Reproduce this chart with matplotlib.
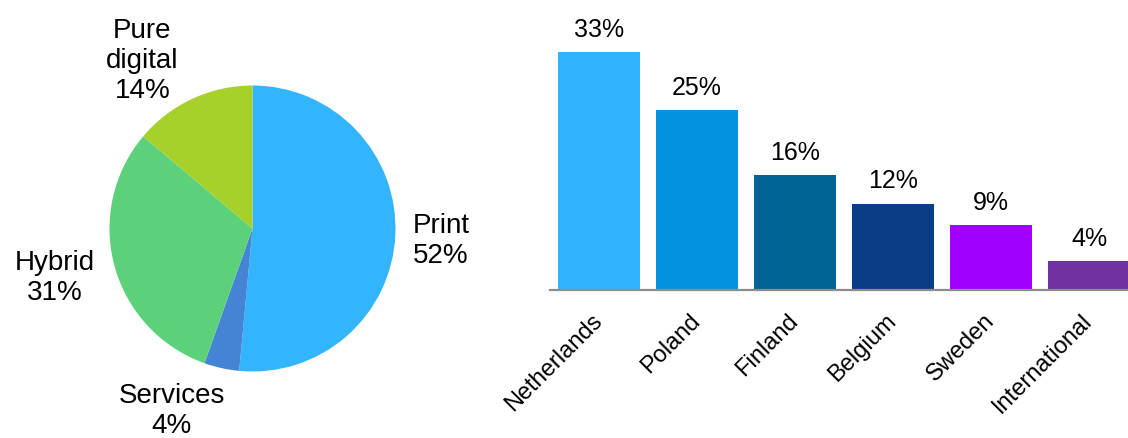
import matplotlib
matplotlib.use("Agg")
import matplotlib.pyplot as plt

# set default font
matplotlib.rcParams.update({"font.family": "Liberation Sans", "font.size": 18})

# pie data
segments = ["Print", "Services", "Hybrid", "Pure digital"]
shares = [52, 4, 31, 14]
seg_labels = ["Print\n52%", "Services\n4%", "Hybrid\n31%", "Pure\ndigital\n14%"]
seg_colors = ["#33b5fd", "#4484d4", "#5dd07a", "#a6d12a"]

# bar data
countries = ["Netherlands", "Poland", "Finland", "Belgium", "Sweden", "International"]
country_share = [33, 25, 16, 12, 9, 4]
bar_colors = ["#31b3fd", "#0392e0", "#006394", "#0a3d87", "#a000ff", "#7030a0"]

fig = plt.figure(figsize=(11.28, 4.39), dpi=100)

# pie chart: centre and radius in pixels of the figure
cx, cy, r = 252.5, 229.5, 143
ax_pie = fig.add_axes([(cx - r) / 1128, (439 - cy - r) / 439, 2 * r / 1128, 2 * r / 439])
ax_pie.pie(shares, colors=seg_colors, startangle=90, counterclock=False,
           radius=1, wedgeprops={"linewidth": 0})
ax_pie.set_xlim(-1, 1)
ax_pie.set_ylim(-1, 1)
ax_pie.set_aspect("equal")
ax_pie.axis("off")

# label anchors (in pie radius units) and alignment
label_pos = [(1.12, -0.08, "left"), (-0.566, -1.27, "center"),
             (-1.385, -0.34, "center"), (-0.77, 1.18, "center")]
for txt, (lx, ly, ha) in zip(seg_labels, label_pos):
    ax_pie.text(lx, ly, txt, ha=ha, va="center", fontsize=20,
                linespacing=1.2, clip_on=False)

# bar chart
ax_bar = fig.add_axes([550 / 1128, (439 - 291) / 439, 588 / 1128, 291 / 439])
x = range(len(countries))
bars = ax_bar.bar(x, country_share, width=0.84, color=bar_colors)
ax_bar.set_xlim(-0.5, 5.5)
ax_bar.set_ylim(0, 291 / 7.2)

for b, v in zip(bars, country_share):
    ax_bar.annotate(f"{v}%", (b.get_x() + b.get_width() / 2, b.get_height()),
                    xytext=(0, 8), textcoords="offset points",
                    ha="center", va="bottom", fontsize=18)

for s in ["top", "right", "left"]:
    ax_bar.spines[s].set_visible(False)
ax_bar.spines["bottom"].set_color("#8c8c8c")
ax_bar.spines["bottom"].set_linewidth(1.6)
ax_bar.set_yticks([])
ax_bar.set_xticks(list(x))
ax_bar.set_xticklabels(countries, rotation=45, ha="right", va="center",
                       rotation_mode="anchor", fontsize=17)
ax_bar.tick_params(axis="x", length=0, pad=19)

plt.savefig("out.png", dpi=100)
